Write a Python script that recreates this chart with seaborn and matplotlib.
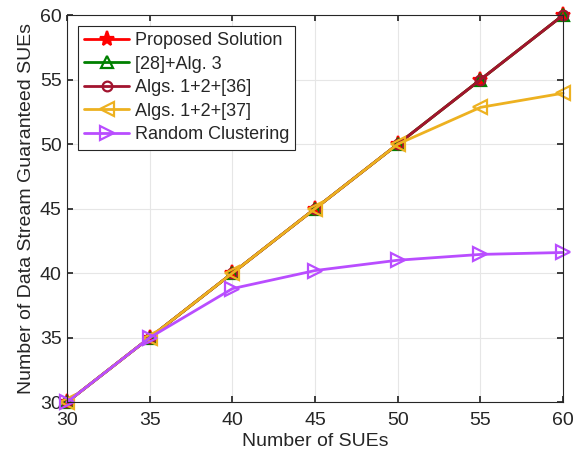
import seaborn as sns
import pandas as pd
import matplotlib.pyplot as plt

sues = [30, 35, 40, 45, 50, 55, 60]
proposed = [30, 35, 40, 45, 50, 55, 60]
alg28 = [30, 35, 40, 45, 50, 55, 60]
algs36 = [30, 35, 40, 45, 50, 55, 60]
algs37 = [30, 35, 40, 45, 50, 52.85, 53.95]
random_cl = [30, 35, 38.8, 40.2, 41.0, 41.45, 41.6]

names = ["Proposed Solution", "[28]+Alg. 3", "Algs. 1+2+[36]", "Algs. 1+2+[37]", "Random Clustering"]
series = [proposed, alg28, algs36, algs37, random_cl]
colors = ["#FF0000", "#008000", "#A2142F", "#EDB120", "#B94DFF"]
markers = ["*", "^", "o", "<", ">"]
msizes = [11, 8, 7, 10, 10]

rows = []
for name, vals in zip(names, series):
    for x, y in zip(sues, vals):
        rows.append({"sues": x, "val": y, "method": name})
df = pd.DataFrame(rows)

sns.set_theme(style="whitegrid")
plt.rcParams['font.family'] = ['Liberation Sans', 'DejaVu Sans']

fig = plt.figure(figsize=(5.83, 4.58), dpi=100)
ax = fig.add_axes([0.115, 0.122, 0.851, 0.845])

for name, c, m, ms in zip(names, colors, markers, msizes):
    sub = df[df["method"] == name]
    filled = m == "*"
    sns.lineplot(ax=ax, data=sub, x="sues", y="val", color=c, marker=m, markersize=ms,
                 linewidth=2, label=name, clip_on=False,
                 markerfacecolor=c if filled else "none", markeredgecolor=c, markeredgewidth=1.6)

ax.set_xlim(30, 60)
ax.set_ylim(30, 60)
ax.set_xticks(sues)
ax.set_yticks([30, 35, 40, 45, 50, 55, 60])
ax.set_xlabel("Number of SUEs", fontsize=14, color="#262626", labelpad=3)
ax.set_ylabel("Number of Data Stream Guaranteed SUEs", fontsize=14, color="#262626", labelpad=3)
ax.tick_params(labelsize=14, colors="#262626", direction="in", length=4)
ax.tick_params(axis="x", pad=7)
ax.tick_params(axis="y", pad=4)
ax.tick_params(axis="both", which="both", bottom=True, left=True, top=True, right=True)
ax.grid(True, color="#E6E6E6", linewidth=0.8)
for sp in ax.spines.values():
    sp.set_color("#262626")
    sp.set_linewidth(0.8)

leg = ax.legend(loc="upper left", fontsize=13, frameon=True, fancybox=False, framealpha=1,
                edgecolor="#262626", borderpad=0.35, labelspacing=0.36, handlelength=2.5,
                handletextpad=0.3, borderaxespad=0.6)
leg.get_frame().set_linewidth(0.8)

fig.savefig("out.png", dpi=100)
